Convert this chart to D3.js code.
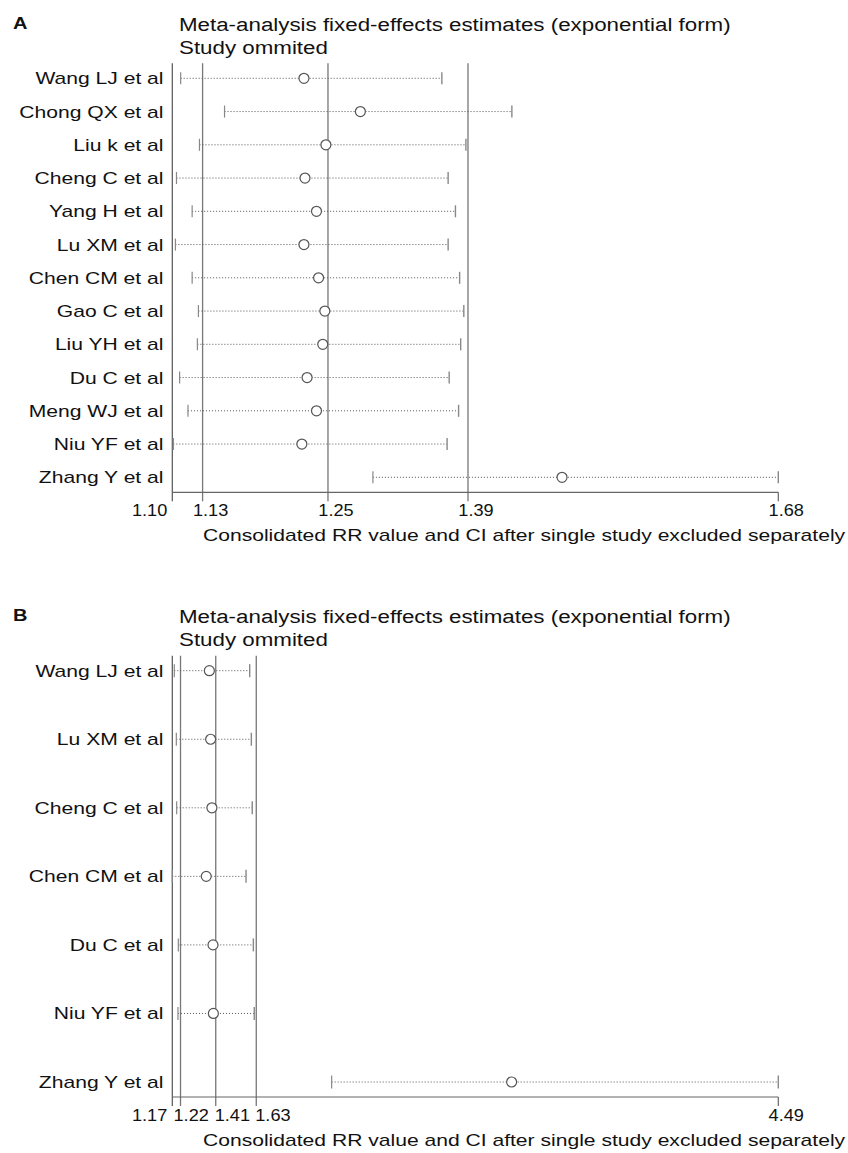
<!DOCTYPE html>
<html>
<head>
<meta charset="utf-8">
<script src="https://cdn.jsdelivr.net/npm/d3@7"></script>
<style>
  body { margin: 0; background: #fff; }
  text { font-family: "Liberation Sans", Arial, sans-serif; fill: #111; }
</style>
</head>
<body>
<script>
var width = 848,
    height = 1153;

// panel A: study omitted, estimate and CI
var studiesA = ["Wang LJ et al", "Chong QX et al", "Liu k et al", "Cheng C et al", "Yang H et al",
                "Lu XM et al", "Chen CM et al", "Gao C et al", "Liu YH et al", "Du C et al",
                "Meng WJ et al", "Niu YF et al", "Zhang Y et al"];
var estA  = [1.226, 1.280, 1.247, 1.227, 1.238, 1.226, 1.240, 1.246, 1.244, 1.229, 1.238, 1.224, 1.473];
var lowA  = [1.108, 1.150, 1.126, 1.104, 1.119, 1.103, 1.119, 1.125, 1.124, 1.107, 1.115, 1.101, 1.292];
var highA = [1.358, 1.425, 1.381, 1.364, 1.371, 1.364, 1.375, 1.379, 1.376, 1.365, 1.374, 1.363, 1.680];
var refA = [1.129, 1.249, 1.383];
var refLabelsA = ["1.13", "1.25", "1.39"];
var endsA = [1.10, 1.68];
var endLabelsA = ["1.10", "1.68"];

// panel B
var studiesB = ["Wang LJ et al", "Lu XM et al", "Cheng C et al", "Chen CM et al",
                "Du C et al", "Niu YF et al", "Zhang Y et al"];
var estB  = [1.373, 1.380, 1.387, 1.356, 1.393, 1.395, 3.029];
var lowB  = [1.181, 1.192, 1.194, 1.170, 1.203, 1.201, 2.043];
var highB = [1.594, 1.603, 1.608, 1.574, 1.614, 1.619, 4.490];
var refB = [1.215, 1.408, 1.630];
var refLabelsB = ["1.22", "1.41", "1.63"];
var endsB = [1.17, 4.49];
var endLabelsB = ["1.17", "4.49"];

var titleLine1 = "Meta-analysis fixed-effects estimates (exponential form)";
var titleLine2 = "Study ommited";
var xTitle = "Consolidated RR value and CI after single study excluded separately";

var svg = d3.select("body").append("svg")
    .attr("width", width)
    .attr("height", height);

// the original lettering is wider than Arial, so stretch it a bit
function widen(sel, s) {
  sel.each(function() {
    var w = this.getComputedTextLength();
    d3.select(this).attr("textLength", w * s).attr("lengthAdjust", "spacingAndGlyphs");
  });
  return sel;
}

function drawPanel(cfg) {
  var g = svg.append("g").attr("transform", "translate(0," + cfg.top + ")");

  var x = d3.scaleLinear().domain(cfg.ends).range([172.3, 778.3]);
  var y = d3.scalePoint().domain(cfg.studies).range([78.3, 78.3 + cfg.rowGap * (cfg.studies.length - 1)]);

  var plotTop = y.range()[0] - 15,
      axisY = y.range()[1] + 15;

  widen(g.append("text").attr("x", 13).attr("y", 29)
    .style("font-weight", "bold").style("font-size", "16px").text(cfg.letter), 1.25);
  widen(g.append("text").attr("x", 179).attr("y", 30.5).style("font-size", "18px").text(titleLine1), 1.24);
  widen(g.append("text").attr("x", 179).attr("y", 53.5).style("font-size", "18px").text(titleLine2), 1.24);

  // left frame line and reference lines
  g.append("line")
    .attr("x1", x(cfg.ends[0])).attr("x2", x(cfg.ends[0]))
    .attr("y1", plotTop).attr("y2", axisY + 9)
    .attr("stroke", "#555").attr("stroke-width", 1.2);

  g.selectAll("line.ref")
    .data(cfg.refs)
    .enter().append("line")
    .attr("class", "ref")
    .attr("x1", x).attr("x2", x)
    .attr("y1", plotTop).attr("y2", axisY + 9)
    .attr("stroke", "#777").attr("stroke-width", 1.3);

  // axis
  g.append("line")
    .attr("x1", x(cfg.ends[0])).attr("x2", x(cfg.ends[1]))
    .attr("y1", axisY).attr("y2", axisY)
    .attr("stroke", "#666").attr("stroke-width", 1.2);
  g.append("line")
    .attr("x1", x(cfg.ends[1])).attr("x2", x(cfg.ends[1]))
    .attr("y1", axisY).attr("y2", axisY + 9)
    .attr("stroke", "#666").attr("stroke-width", 1.2);

  // tick labels
  widen(g.append("text")
    .attr("x", x(cfg.ends[0]) - 5).attr("y", axisY + 24)
    .attr("text-anchor", "end").style("font-size", "16.5px")
    .text(cfg.endLabels[0]), 1.1);
  widen(g.append("text")
    .attr("x", x(cfg.ends[1]) + 8).attr("y", axisY + 24)
    .attr("text-anchor", "middle").style("font-size", "16.5px")
    .text(cfg.endLabels[1]), 1.1);
  widen(g.selectAll("text.reflab")
    .data(cfg.refs)
    .enter().append("text")
    .attr("class", "reflab")
    .attr("x", function(d, i) { return x(d) + cfg.refDx[i]; })
    .attr("y", axisY + 24)
    .attr("text-anchor", cfg.refAnchor)
    .style("font-size", "16.5px")
    .text(function(d, i) { return cfg.refLabels[i]; }), 1.1);

  widen(g.append("text")
    .attr("x", 203).attr("y", axisY + 49)
    .style("font-size", "17px")
    .text(xTitle), 1.24);

  // study rows
  var rows = g.selectAll("g.row")
    .data(cfg.studies)
    .enter().append("g")
    .attr("class", "row")
    .attr("transform", function(d) { return "translate(0," + y(d) + ")"; });

  widen(rows.append("text")
    .attr("x", 163.5).attr("y", 6)
    .attr("text-anchor", "end")
    .style("font-size", "17px")
    .text(function(d) { return d; }), 1.24);

  rows.append("line")
    .attr("x1", function(d, i) { return x(cfg.low[i]); })
    .attr("x2", function(d, i) { return x(cfg.high[i]); })
    .attr("stroke", "#555").attr("stroke-dasharray", "1,2");

  rows.append("line")
    .attr("x1", function(d, i) { return x(cfg.low[i]); })
    .attr("x2", function(d, i) { return x(cfg.low[i]); })
    .attr("y1", -cfg.cap).attr("y2", cfg.cap)
    .attr("stroke", "#888").attr("stroke-width", 1.2);
  rows.append("line")
    .attr("x1", function(d, i) { return x(cfg.high[i]); })
    .attr("x2", function(d, i) { return x(cfg.high[i]); })
    .attr("y1", -cfg.cap).attr("y2", cfg.cap)
    .attr("stroke", "#888").attr("stroke-width", 1.4);

  rows.append("circle")
    .attr("cx", function(d, i) { return x(cfg.est[i]); })
    .attr("r", 5)
    .attr("fill", "#fff")
    .attr("stroke", "#555").attr("stroke-width", 1.2);
}

drawPanel({
  top: 0, letter: "A", studies: studiesA, est: estA, low: lowA, high: highA,
  refs: refA, refLabels: refLabelsA, ends: endsA, endLabels: endLabelsA,
  rowGap: 33.25, cap: 6, refDx: [8, 8, 8], refAnchor: "middle"
});

drawPanel({
  top: 592.4, letter: "B", studies: studiesB, est: estB, low: lowB, high: highB,
  refs: refB, refLabels: refLabelsB, ends: endsB, endLabels: endLabelsB,
  rowGap: 68.55, cap: 6.5, refDx: [-7, -1, -1], refAnchor: "start"
});
</script>
</body>
</html>
